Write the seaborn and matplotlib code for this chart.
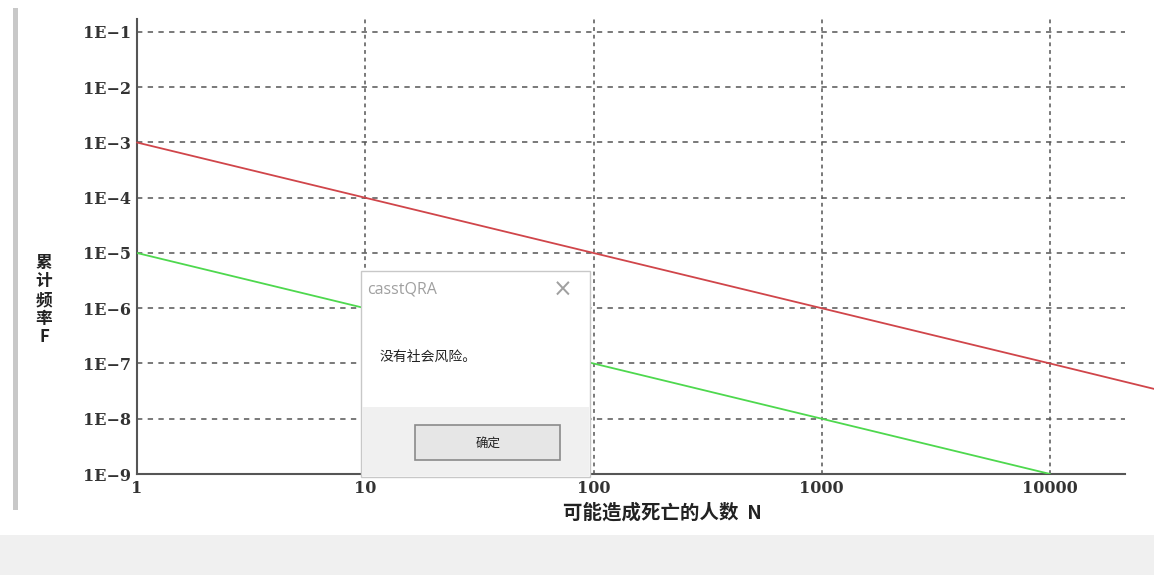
import matplotlib
matplotlib.use("Agg")
import matplotlib.pyplot as plt
from matplotlib.patches import Rectangle
import pandas as pd
import seaborn as sns

# Societal-risk criteria (F-N curve): upper and lower limits
n_values = [1, 10, 100, 1000, 10000, 30000]
upper_limit = [1e-3, 1e-4, 1e-5, 1e-6, 1e-7, 3.3e-8]
lower_n = [1, 10, 100, 1000, 10000]
lower_limit = [1e-5, 1e-6, 1e-7, 1e-8, 1e-9]

y_ticks = [1e-1, 1e-2, 1e-3, 1e-4, 1e-5, 1e-6, 1e-7, 1e-8, 1e-9]
y_tick_labels = ["1E\u22121", "1E\u22122", "1E\u22123", "1E\u22124", "1E\u22125",
                 "1E\u22126", "1E\u22127", "1E\u22128", "1E\u22129"]
x_ticks = [1, 10, 100, 1000, 10000]
x_tick_labels = ["1", "10", "100", "1000", "10000"]

x_label = "可能造成死亡的人数  N"
y_label = "累\n计\n频\n率\nF"
dialog_title = "casstQRA"
dialog_message = "没有社会风险。"
dialog_button = "确定"

sns.set_style("white")
plt.rcParams["font.family"] = ["Noto Sans CJK SC", "DejaVu Sans"]

W, H = 1154, 575
fig = plt.figure(figsize=(W / 100, H / 100), dpi=100)
fig.patch.set_facecolor("white")


def fx(px):
    return px / W


def fy(py):
    return 1 - py / H


# window chrome: left border and bottom status band
fig.add_artist(Rectangle((fx(13), fy(510)), fx(5), fy(8) - fy(510),
                         transform=fig.transFigure, facecolor="#c8c8c8",
                         edgecolor="none", zorder=0))
fig.add_artist(Rectangle((0, 0), 1, fy(535), transform=fig.transFigure,
                         facecolor="#f0f0f0", edgecolor="none", zorder=0))

ax = fig.add_axes([fx(137), fy(474), fx(1125) - fx(137), fy(19) - fy(474)])
ax.set_facecolor("none")

upper_df = pd.DataFrame({"N": n_values, "F": upper_limit})
lower_df = pd.DataFrame({"N": lower_n, "F": lower_limit})
sns.lineplot(data=upper_df, x="N", y="F", ax=ax, color="#d0454a", lw=1.3,
             clip_on=False, zorder=3)
sns.lineplot(data=lower_df, x="N", y="F", ax=ax, color="#4ed84e", lw=1.3,
             zorder=3)

ax.set_xscale("log")
ax.set_yscale("log")
ax.set_xlim(1, 10 ** (4 + 75 / 228.5))
ax.set_ylim(1e-9, 10 ** (-1 + 13 / 55.3))

for yv in y_ticks[:-1]:
    ax.axhline(yv, color="#555555", lw=1.1, ls=(0, (3.5, 3.5)), zorder=1)
for xv in x_ticks[1:]:
    ax.axvline(xv, color="#555555", lw=1.1, ls=(0, (2.5, 2.5)), zorder=1)

ax.set_yticks(y_ticks)
ax.set_yticklabels(y_tick_labels, family="DejaVu Serif", fontweight="bold",
                   fontsize=11.5, color="#333333")
ax.set_xticks(x_ticks)
ax.set_xticklabels(x_tick_labels, family="DejaVu Serif", fontweight="bold",
                   fontsize=11.5, color="#333333")
ax.minorticks_off()
ax.tick_params(axis="y", direction="out", length=4, width=1.2,
               color="#555555", pad=0.5)
ax.tick_params(axis="x", direction="in", length=4, width=1.2,
               color="#555555", pad=4)

for side in ("top", "right"):
    ax.spines[side].set_visible(False)
for side in ("left", "bottom"):
    ax.spines[side].set_color("#555555")
    ax.spines[side].set_linewidth(1.5)

ax.set_xlabel("")
ax.set_ylabel("")
fig.text(fx(662), fy(513), x_label, ha="center", va="center",
         fontsize=14, fontweight="bold", color="#222222")
fig.text(fx(44), fy(300), y_label, ha="center", va="center",
         fontsize=12, fontweight="bold", color="#222222", linespacing=1.05)

# message dialog
fig.add_artist(Rectangle((fx(361), fy(477)), fx(590) - fx(361), fy(271) - fy(477),
                         transform=fig.transFigure, facecolor="white",
                         edgecolor="#c8c8c8", lw=1.0, zorder=10))
fig.add_artist(Rectangle((fx(362), fy(476)), fx(589) - fx(362), fy(407) - fy(476),
                         transform=fig.transFigure, facecolor="#f0f0f0",
                         edgecolor="none", zorder=11))
fig.add_artist(Rectangle((fx(415), fy(460)), fx(560) - fx(415), fy(425) - fy(460),
                         transform=fig.transFigure, facecolor="#e6e6e6",
                         edgecolor="#8a8a8a", lw=1.2, zorder=12))
fig.text(fx(367), fy(290), dialog_title, ha="left", va="center",
         fontsize=11.5, color="#a0a0a0", family=["Open Sans", "DejaVu Sans"],
         zorder=13)
fig.text(fx(563), fy(290), "\u00d7", ha="center", va="center",
         fontsize=17, color="#a0a0a0", family=["DejaVu Sans"], zorder=13)
fig.text(fx(380), fy(357), dialog_message, ha="left", va="center",
         fontsize=10, color="#222222", zorder=13)
fig.text(fx(488), fy(443), dialog_button, ha="center", va="center",
         fontsize=9, color="#222222", zorder=13)

fig.savefig("out.png", dpi=100)
